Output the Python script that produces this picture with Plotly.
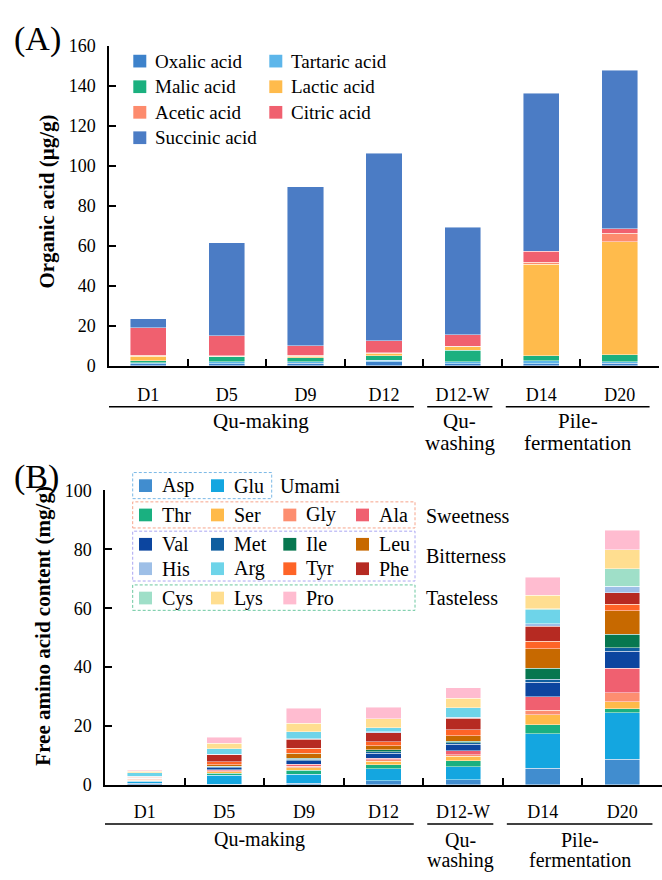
import plotly.graph_objects as go

W, H = 662, 880
FONT = "Liberation Serif, Times New Roman, DejaVu Serif, serif"

# ---------------- data ----------------
days = ["D1", "D5", "D9", "D12", "D12-W", "D14", "D20"]
group_lines = [["Qu-making"], ["Qu-", "washing"], ["Pile-", "fermentation"]]
group_start = [0, 4, 5]
group_end = [3, 4, 6]

# Panel A: organic acids (ug/g)
acid_names = ["Oxalic acid", "Tartaric acid", "Malic acid", "Lactic acid",
              "Acetic acid", "Citric acid", "Succinic acid"]
oxalic = [1.0, 1.0, 1.3, 2.0, 1.1, 1.0, 1.3]
tartaric = [0.6, 1.0, 0.8, 0.8, 0.9, 1.6, 0.7]
malic = [1.0, 2.4, 1.9, 2.1, 5.8, 2.3, 3.4]
lactic = [2.2, 0.3, 0.8, 1.3, 1.6, 45.8, 56.7]
acetic = [0.4, 0.2, 0.5, 0.3, 0.4, 1.0, 4.2]
citric = [13.7, 10.2, 4.8, 5.9, 5.6, 5.7, 2.2]
succinic = [4.5, 46.4, 79.4, 93.9, 54.0, 78.9, 79.5]
acid_values = [oxalic, tartaric, malic, lactic, acetic, citric, succinic]
acid_colors = ["#3d82cb", "#5db6ea", "#1bb07f", "#ffbb4c",
               "#fd8b6d", "#f0606f", "#4b7cc5"]

# Panel B: free amino acids (mg/g), stacking order bottom -> top
aa_names = ["Asp", "Glu", "Thr", "Ser", "Gly", "Ala", "Val", "Met", "Ile",
            "Leu", "Tyr", "Phe", "His", "Arg", "Cys", "Lys", "Pro"]
asp = [0.5, 0.3, 0.5, 1.4, 1.7, 5.7, 8.7]
glu = [0.7, 3.0, 3.1, 4.1, 4.5, 11.6, 15.8]
thr = [0.3, 0.7, 1.4, 1.4, 2.1, 3.1, 1.4]
ser = [0.1, 0.5, 0.8, 1.1, 1.4, 3.5, 2.4]
gly = [0.3, 0.3, 0.5, 0.5, 0.6, 1.4, 3.0]
ala = [0.2, 0.3, 0.8, 0.6, 1.3, 4.6, 8.3]
val = [0.1, 0.7, 1.2, 1.6, 2.2, 5.0, 5.8]
met = [0.1, 0.3, 0.4, 0.6, 0.6, 0.9, 1.1]
ile = [0.05, 0.2, 0.3, 0.7, 0.5, 3.8, 4.7]
leu = [0.1, 0.5, 1.7, 1.3, 1.8, 6.6, 7.9]
tyr = [0.2, 1.1, 1.7, 1.4, 2.1, 2.5, 2.2]
phe = [0.2, 2.4, 3.1, 3.1, 3.8, 5.2, 3.9]
his = [0.05, 0.1, 0.2, 0.3, 0.3, 0.9, 2.0]
arg = [1.3, 1.9, 2.4, 1.4, 3.3, 4.7, 0.3]
cys = [0.0, 0.0, 0.0, 0.0, 0.0, 0.3, 5.8]
lys = [0.4, 1.9, 2.9, 3.0, 3.3, 4.6, 6.6]
pro = [0.4, 2.0, 5.0, 3.9, 3.5, 6.1, 6.6]
aa_values = [asp, glu, thr, ser, gly, ala, val, met, ile, leu, tyr, phe,
             his, arg, cys, lys, pro]
aa_colors = {"Asp": "#418dcf", "Glu": "#14a6e0", "Thr": "#1ab080",
             "Ser": "#ffba4a", "Gly": "#fd8e70", "Ala": "#f06070",
             "Val": "#0c459f", "Met": "#0f5e9f", "Ile": "#07774f",
             "Leu": "#c76900", "Tyr": "#fe6427", "Phe": "#b62a22",
             "His": "#9ebfe7", "Arg": "#6ed4e9", "Cys": "#9fdfc8",
             "Lys": "#ffde90", "Pro": "#ffbcd0"}

# taste groups for legend of panel B
taste_groups = ["Umami", "Sweetness", "Bitterness", "Tasteless"]
taste_rows = [[["Asp", "Glu"]],
              [["Thr", "Ser", "Gly", "Ala"]],
              [["Val", "Met", "Ile", "Leu"], ["His", "Arg", "Tyr", "Phe"]],
              [["Cys", "Lys", "Pro"]]]
taste_box_colors = ["#7cb9e6", "#f7a58c", "#aaa6f2", "#6cc8a0"]


def px(x):
    return x / W


def py(y):
    return 1 - y / H


fig = go.Figure()
bar_line = dict(width=0.6, color="rgba(255,255,255,0.75)")

for name, vals, col in zip(acid_names, acid_values, acid_colors):
    fig.add_trace(go.Bar(x=days, y=vals, name=name, marker_color=col,
                         marker_line=bar_line, width=0.46,
                         xaxis="x", yaxis="y", showlegend=False))
for name, vals in zip(aa_names, aa_values):
    fig.add_trace(go.Bar(x=days, y=vals, name=name,
                         marker_color=aa_colors[name],
                         marker_line=bar_line, width=0.44,
                         xaxis="x2", yaxis="y2", showlegend=False))

axis_common = dict(showline=True, linecolor="black", linewidth=1.5,
                   ticks="inside", ticklen=7, tickwidth=1.5, tickcolor="black",
                   showgrid=False, zeroline=False,
                   tickfont=dict(family=FONT, size=18, color="black"))

fig.update_layout(
    width=W, height=H, margin=dict(l=0, r=0, t=0, b=0),
    paper_bgcolor="white", plot_bgcolor="white",
    barmode="stack", bargap=0.54,
    font=dict(family=FONT, color="black"),
    xaxis=dict(domain=[px(109), px(659)], anchor="y", type="category",
               range=[-0.5, 6.5], tickson="boundaries",
               ticklabelstandoff=12, **axis_common),
    yaxis=dict(domain=[py(364), py(37)], anchor="x", range=[0, 160],
               dtick=20, ticklabelstandoff=8, **axis_common),
    xaxis2=dict(domain=[px(105), 1.0], anchor="y2", type="category",
                range=[-0.5, 6.5], tickson="boundaries",
                ticklabelstandoff=10, **axis_common),
    yaxis2=dict(domain=[py(793), py(491.5)], anchor="x2", range=[0, 100],
                dtick=20, ticklabelstandoff=8, **axis_common),
)

shapes = []
annots = []

# group brackets under x axes
for xref, line_y, lab_y, fs in [("x", 406, [421, 443], 21),
                                ("x2", 833, [849, 870], 20)]:
    for lines, s, e in zip(group_lines, group_start, group_end):
        x0 = s - 0.45 if s > 0 else -0.5
        x1 = e + 0.38
        shapes.append(dict(type="line", xref=xref, yref="paper",
                           x0=x0, x1=x1, y0=py(line_y), y1=py(line_y),
                           line=dict(color="black", width=1.5)))
        cx = (x0 + x1) / 2
        for k, t in enumerate(lines):
            annots.append(dict(text=t, xref=xref, yref="paper", x=cx,
                               y=py(lab_y[k]), showarrow=False,
                               xanchor="center", yanchor="middle",
                               font=dict(family=FONT, size=fs)))

# axis titles and panel labels
annots.append(dict(text="<b>Organic acid (μg/g)</b>", xref="paper",
                   yref="paper", x=px(47), y=py(196), textangle=-90,
                   xanchor="center", yanchor="middle",
                   showarrow=False, font=dict(family=FONT, size=21)))
annots.append(dict(text="<b>Free amino acid content (mg/g)</b>",
                   xref="paper", yref="paper", x=px(43), y=py(630),
                   xanchor="center", yanchor="middle",
                   textangle=-90, showarrow=False,
                   font=dict(family=FONT, size=21)))
annots.append(dict(text="(A)", xref="paper", yref="paper", x=px(37),
                   y=py(30), xanchor="center", yanchor="middle",
                   showarrow=False, font=dict(family=FONT, size=34)))
annots.append(dict(text="(B)", xref="paper", yref="paper", x=px(36),
                   y=py(478), xanchor="center", yanchor="middle",
                   showarrow=False, font=dict(family=FONT, size=34)))


def legend_item(label, color, left, cy, size, fsize, gap):
    shapes.append(dict(type="rect", xref="paper", yref="paper",
                       x0=px(left), x1=px(left + size),
                       y0=py(cy + size / 2), y1=py(cy - size / 2),
                       fillcolor=color, line=dict(width=0)))
    annots.append(dict(text=label, xref="paper", yref="paper",
                       x=px(left + size + gap), y=py(cy), showarrow=False,
                       xanchor="left", yanchor="middle",
                       font=dict(family=FONT, size=fsize)))


# legend A (two columns, row-major)
a_cols = [133.3, 269.3]
a_rows = [52.3, 78.5, 104.7, 130.7]
for i, (name, col) in enumerate(zip(acid_names, acid_colors)):
    legend_item(name, col, a_cols[i % 2], a_rows[i // 2], 13, 19, 7)

# legend B (grouped by taste with dashed boxes)
b_cols = [139, 211, 283.3, 356]
b_rows = [486.7, 516.7, 546.7, 571.7, 601.7]
box_y = [(473.3, 500), (503.3, 530), (533.3, 584.3), (588.3, 614.3)]
box_x1 = [271.7, 415, 415, 415]
label_pos = [(278.3, 486.7), (424, 517.5), (424, 558.5), (424, 602)]
r = 0
for g, rows in enumerate(taste_rows):
    for row in rows:
        for c, name in enumerate(row):
            legend_item(name, aa_colors[name], b_cols[c], b_rows[r], 13, 20, 8)
        r += 1
    shapes.append(dict(type="rect", xref="paper", yref="paper",
                       x0=px(132.7), x1=px(box_x1[g]),
                       y0=py(box_y[g][1]), y1=py(box_y[g][0]),
                       line=dict(color=taste_box_colors[g], width=1,
                                 dash="3px,2px"),
                       fillcolor="rgba(0,0,0,0)"))
    annots.append(dict(text=taste_groups[g], xref="paper", yref="paper",
                       x=px(label_pos[g][0]), y=py(label_pos[g][1]),
                       showarrow=False, xanchor="left", yanchor="middle",
                       font=dict(family=FONT, size=20)))

fig.update_layout(shapes=shapes, annotations=annots)
fig.write_html("out.html")
